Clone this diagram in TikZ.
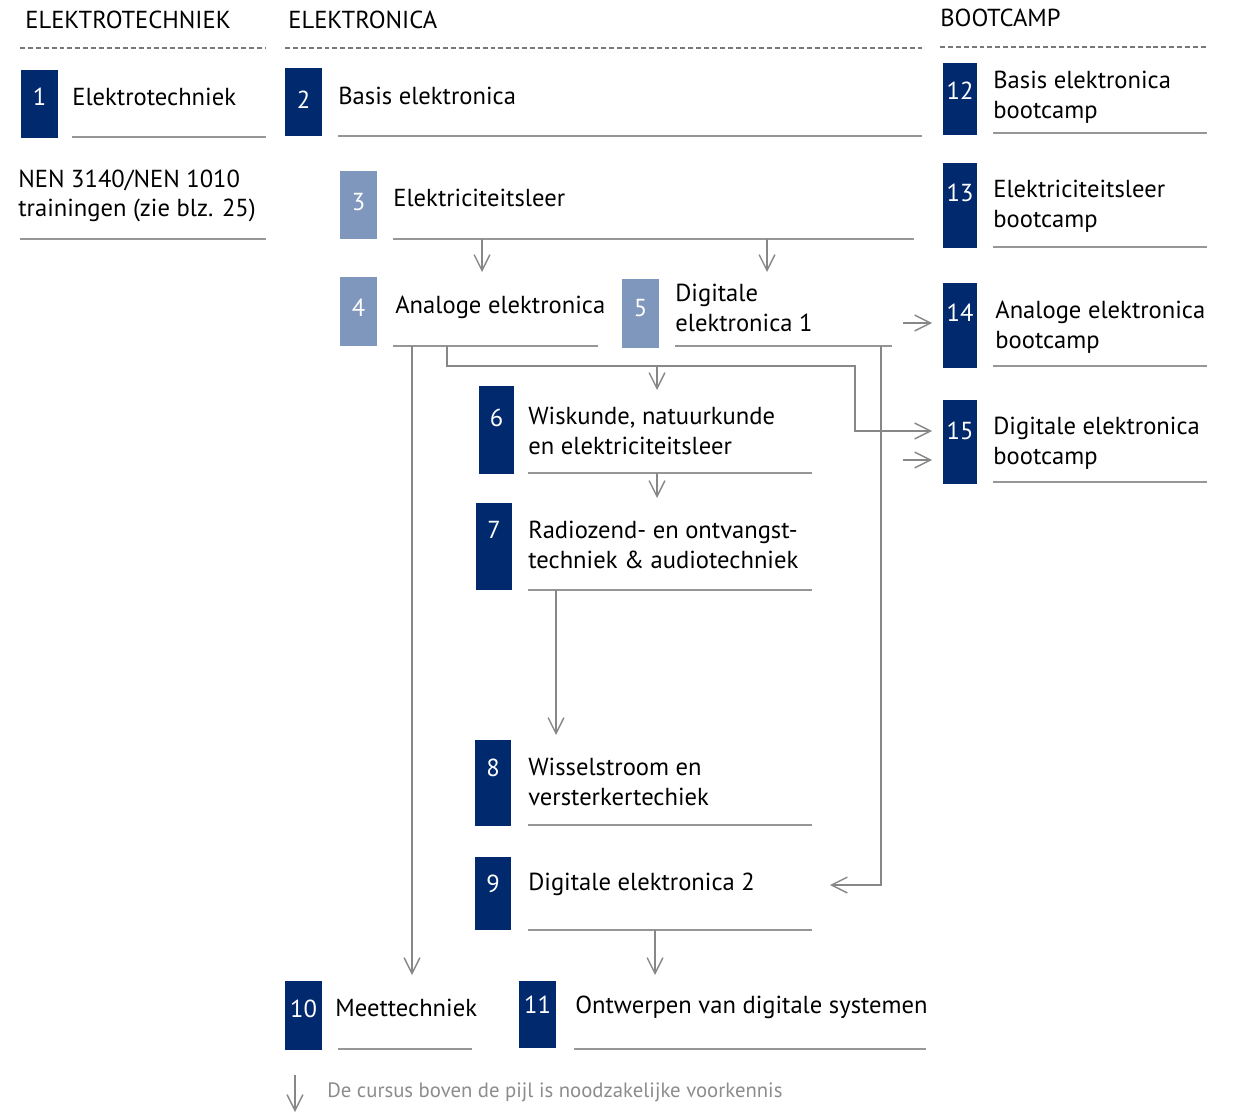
\documentclass[tikz,border=0pt]{standalone}
\usepackage{fontspec}
\setmainfont{PT Sans}
\usetikzlibrary{arrows.meta}
\definecolor{navy}{RGB}{0,41,110}
\definecolor{paleblue}{RGB}{127,151,189}
\definecolor{rulegrey}{RGB}{150,150,150}
\definecolor{arrowgrey}{RGB}{135,135,135}
\definecolor{notegrey}{RGB}{120,120,120}

\begin{document}
\begin{tikzpicture}[x=0.02cm,y=-0.02cm,
  head/.style={font=\fontsize{14}{17}\selectfont, anchor=west, inner sep=0},
  item/.style={font=\fontsize{14}{17}\selectfont, anchor=west, align=left, inner sep=0},
  num/.style={font=\fontsize{14}{17}\selectfont, text=white, inner sep=0},
  rule/.style={draw=rulegrey, line width=0.7pt},
  sep/.style={draw=notegrey, dash pattern=on 2.8pt off 1.7pt, line width=1pt},
  arr/.style={draw=arrowgrey, line width=0.8pt, -{Straight Barb[length=9pt,width=9pt]}},
]
\useasboundingbox (0,0) rectangle (1246,1115);

% column heads
\node[head] (h1) at (25,20) {ELEKTROTECHNIEK};
\node[head] (h2) at (288,20) {ELEKTRONICA};
\node[head] (h3) at (940,18) {BOOTCAMP};
\draw[sep] (20,48) -- (266,48);
\draw[sep] (285,48) -- (922,48);
\draw[sep] (940,47) -- (1207,47);

% number blocks
\fill[navy] (21,70) rectangle (58,138);
\fill[navy] (285,68) rectangle (322,136);
\fill[paleblue] (340,171) rectangle (377,239);
\fill[paleblue] (340,277) rectangle (377,346);
\fill[paleblue] (622,279) rectangle (659,348);
\fill[navy] (479,386) rectangle (514,474);
\fill[navy] (476,503) rectangle (512,590);
\fill[navy] (475,740) rectangle (511,826);
\fill[navy] (475,857) rectangle (511,930);
\fill[navy] (285,981) rectangle (322,1050);
\fill[navy] (519,981) rectangle (556,1048);
\fill[navy] (943,63) rectangle (977,135);
\fill[navy] (943,163) rectangle (977,248);
\fill[navy] (943,283) rectangle (977,368);
\fill[navy] (943,400) rectangle (977,484);

\node[num] (n1) at (39.5,97) {1};
\node[num] (n2) at (303.5,100) {2};
\node[num] (n3) at (358.5,202) {3};
\node[num] (n4) at (358.5,308) {4};
\node[num] (n5) at (640.5,308) {5};
\node[num] (n6) at (496.5,418) {6};
\node[num] (n7) at (494,530) {7};
\node[num] (n8) at (493,768) {8};
\node[num] (n9) at (493,884) {9};
\node[num] (n10) at (303.5,1009) {10};
\node[num] (n11) at (537.5,1005) {11};
\node[num] (n12) at (960,91) {12};
\node[num] (n13) at (960,193) {13};
\node[num] (n14) at (960,313) {14};
\node[num] (n15) at (960,431) {15};

% course titles
\node[item] (t1) at (72,97) {Elektrotechniek};
\node[item] (t2) at (338,96) {Basis elektronica};
\node[item] (nen) at (18,196) {NEN 3140/NEN 1010\\trainingen (zie blz. 25)};
\node[item] (t3) at (393,198) {Elektriciteitsleer};
\node[item] (t4) at (395,307) {Analoge elektronica};
\node[item] (t5) at (675,308) {Digitale\\elektronica 1};
\node[item] (t6) at (528,431) {Wiskunde, natuurkunde\\en elektriciteitsleer};
\node[item] (t7) at (528,545) {Radiozend- en ontvangst-\\techniek \& audiotechniek};
\node[item] (t8) at (528,782) {Wisselstroom en\\versterkertechiek};
\node[item] (t9) at (528,884) {Digitale elektronica 2};
\node[item] (t10) at (335,1008) {Meettechniek};
\node[item] (t11) at (575,1007) {Ontwerpen van digitale systemen};
\node[item] (t12) at (993,97) {Basis elektronica\\bootcamp};
\node[item] (t13) at (993,206) {Elektriciteitsleer\\bootcamp};
\node[item] (t14) at (995,327) {Analoge elektronica\\bootcamp};
\node[item] (t15) at (993,443) {Digitale elektronica\\bootcamp};

% underlines
\draw[rule] (72,137) -- (266,137);
\draw[rule] (338,136) -- (922,136);
\draw[rule] (20,239) -- (266,239);
\draw[rule] (393,239) coordinate (u3) -- (914,239);
\draw[rule] (393,346) coordinate (u4) -- (598,346);
\draw[rule] (675,346) coordinate (u5) -- (892,346);
\draw[rule] (528,473) coordinate (u6) -- (812,473);
\draw[rule] (528,590) coordinate (u7) -- (812,590);
\draw[rule] (528,825) -- (812,825);
\draw[rule] (528,930) coordinate (u9) -- (812,930);
\draw[rule] (338,1049) -- (472,1049);
\draw[rule] (574,1049) -- (926,1049);
\draw[rule] (993,133) -- (1207,133);
\draw[rule] (993,247) -- (1207,247);
\draw[rule] (993,366) -- (1207,366);
\draw[rule] (993,482) -- (1207,482);

% arrow ends
\coordinate (in4) at (482,272);
\coordinate (in5) at (767,272);
\coordinate (out5) at (903,323);
\coordinate (in14) at (932,323);
\coordinate (in10) at (412,975);
\coordinate (from4) at (447,346);
\coordinate (bend) at (855,366);
\coordinate (in15) at (932,431);
\coordinate (in6) at (657,390);
\coordinate (from5) at (881,346);
\coordinate (in9) at (830,885);
\coordinate (out15) at (903,460);
\coordinate (in15b) at (932,460);
\coordinate (in7) at (657,498);
\coordinate (in8) at (556,735);
\coordinate (in11) at (655,975);

% prerequisites
\draw[arr] (in4 |- u3) -- (in4);
\draw[arr] (in5 |- u3) -- (in5);
\draw[arr] (out5) -- (in14);
\draw[arr] (in10 |- u4) -- (in10);
\draw[arr] (from4) |- (bend) |- (in15);
\draw[arr] (in6 |- bend) -- (in6);
\draw[arr] (from5) |- (in9);
\draw[arr] (out15) -- (in15b);
\draw[arr] (in7 |- u6) -- (in7);
\draw[arr] (in8 |- u7) -- (in8);
\draw[arr] (in11 |- u9) -- (in11);

% legend
\coordinate (key) at (295,1075);
\coordinate (keyend) at (295,1112);
\draw[arr] (key) -- (keyend);
\node[anchor=west, inner sep=0, text=notegrey!85, font=\fontsize{11.8}{14}\selectfont] (note) at (327,1092) {De cursus boven de pijl is noodzakelijke voorkennis};
\end{tikzpicture}
\end{document}
